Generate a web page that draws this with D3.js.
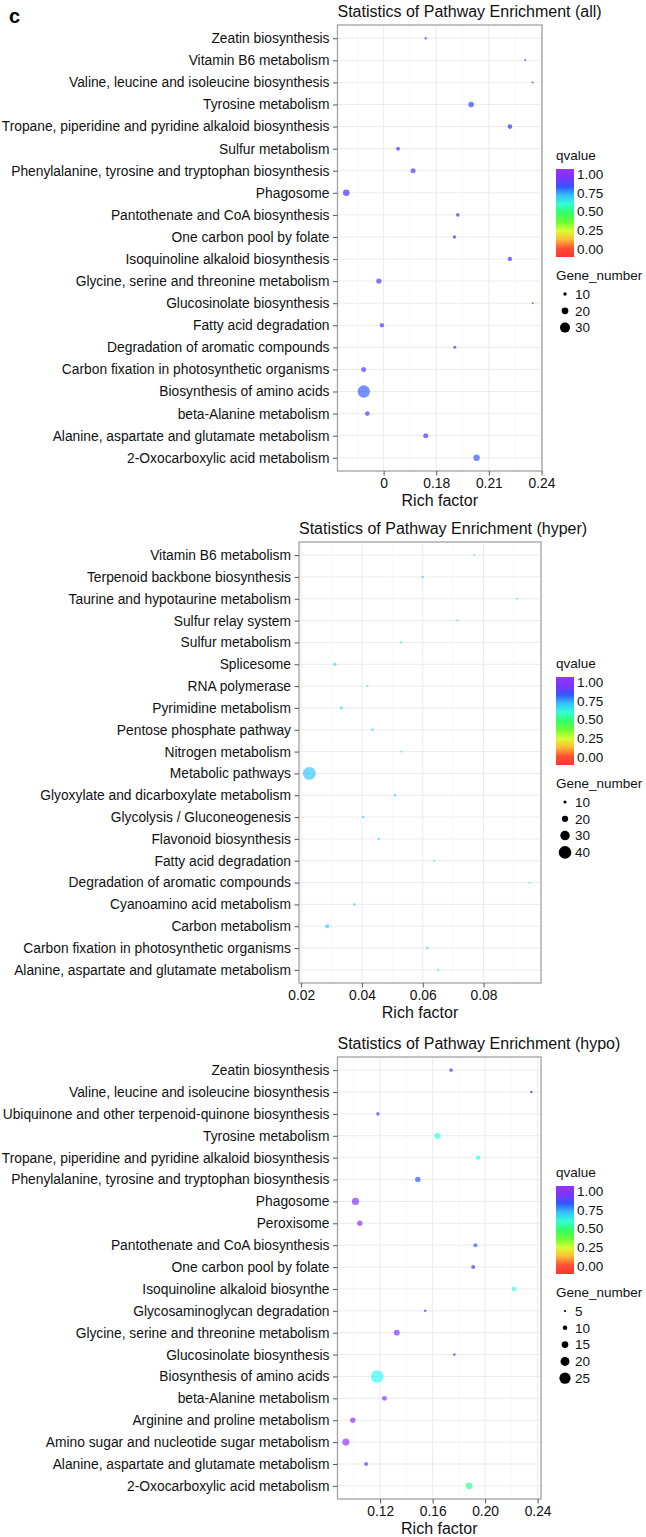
<!DOCTYPE html>
<html>
<head>
<meta charset="utf-8">
<script src="https://cdn.jsdelivr.net/npm/d3@7"></script>
<style>
  body { margin: 0; background: #fff; }
  text { font-family: "Liberation Sans", Arial, sans-serif; }
</style>
</head>
<body>
<svg id="chart"></svg>
<script>
"use strict";

// ---- panel "all" ----
const allCats = ["Zeatin biosynthesis", "Vitamin B6 metabolism", "Valine, leucine and isoleucine biosynthesis",
  "Tyrosine metabolism", "Tropane, piperidine and pyridine alkaloid biosynthesis", "Sulfur metabolism",
  "Phenylalanine, tyrosine and tryptophan biosynthesis", "Phagosome", "Pantothenate and CoA biosynthesis",
  "One carbon pool by folate", "Isoquinoline alkaloid biosynthesis", "Glycine, serine and threonine metabolism",
  "Glucosinolate biosynthesis", "Fatty acid degradation", "Degradation of aromatic compounds",
  "Carbon fixation in photosynthetic organisms", "Biosynthesis of amino acids", "beta-Alanine metabolism",
  "Alanine, aspartate and glutamate metabolism", "2-Oxocarboxylic acid metabolism"];
const allRich = [0.174, 0.2307, 0.235, 0.1999, 0.222, 0.1582, 0.1668, 0.1287, 0.1923, 0.1904,
  0.222, 0.1473, 0.235, 0.149, 0.1906, 0.1386, 0.1387, 0.1407, 0.174, 0.203];
const allQ = [0.92, 0.9, 0.9, 0.87, 0.89, 0.92, 0.93, 0.91, 0.91, 0.91,
  0.91, 0.93, 0.9, 0.93, 0.91, 0.94, 0.84, 0.94, 0.92, 0.85];
const allGenes = [7, 6, 6, 17, 14, 12, 15, 20, 11, 10, 13, 16, 6, 13, 9, 15, 37, 14, 15, 19];
const allTicks = [0.15, 0.18, 0.21, 0.24];
const allTickLabels = ["0", "0.18", "0.21", "0.24"];
const allSizeBreaks = [10, 20, 30];

// ---- panel "hyper" ----
const hyperCats = ["Vitamin B6 metabolism", "Terpenoid backbone biosynthesis", "Taurine and hypotaurine metabolism",
  "Sulfur relay system", "Sulfur metabolism", "Splicesome", "RNA polymerase", "Pyrimidine metabolism",
  "Pentose phosphate pathway", "Nitrogen metabolism", "Metabolic pathways", "Glyoxylate and dicarboxylate metabolism",
  "Glycolysis / Gluconeogenesis", "Flavonoid biosynthesis", "Fatty acid degradation",
  "Degradation of aromatic compounds", "Cyanoamino acid metabolism", "Carbon metabolism",
  "Carbon fixation in photosynthetic organisms", "Alanine, aspartate and glutamate metabolism"];
const hyperRich = [0.0769, 0.06, 0.091, 0.0714, 0.0528, 0.0311, 0.0418, 0.0332, 0.0435, 0.0528,
  0.0227, 0.0509, 0.0404, 0.0455, 0.0638, 0.0951, 0.0375, 0.0286, 0.0615, 0.0651];
const hyperQ = [0.7, 0.7, 0.7, 0.7, 0.7, 0.71, 0.7, 0.71, 0.7, 0.7,
  0.73, 0.7, 0.71, 0.7, 0.7, 0.7, 0.71, 0.72, 0.7, 0.7];
const hyperGenes = [6, 8, 6, 7, 7, 10, 7, 9, 8, 6, 41, 8, 8, 8, 7, 6, 8, 13, 8, 7];
const hyperTicks = [0.02, 0.04, 0.06, 0.08];
const hyperTickLabels = ["0.02", "0.04", "0.06", "0.08"];
const hyperSizeBreaks = [10, 20, 30, 40];

// ---- panel "hypo" ----
const hypoCats = ["Zeatin biosynthesis", "Valine, leucine and isoleucine biosynthesis",
  "Ubiquinone and other terpenoid-quinone biosynthesis", "Tyrosine metabolism",
  "Tropane, piperidine and pyridine alkaloid biosynthesis", "Phenylalanine, tyrosine and tryptophan biosynthesis",
  "Phagosome", "Peroxisome", "Pantothenate and CoA biosynthesis", "One carbon pool by folate",
  "Isoquinoline alkaloid biosynthe", "Glycosaminoglycan degradation", "Glycine, serine and threonine metabolism",
  "Glucosinolate biosynthesis", "Biosynthesis of amino acids", "beta-Alanine metabolism",
  "Arginine and proline metabolism", "Amino sugar and nucleotide sugar metabolism",
  "Alanine, aspartate and glutamate metabolism", "2-Oxocarboxylic acid metabolism"];
const hypoRich = [0.1741, 0.2353, 0.1183, 0.1637, 0.1947, 0.1487, 0.1012, 0.1045, 0.1926, 0.1909,
  0.2221, 0.1543, 0.1327, 0.1766, 0.1177, 0.1233, 0.0992, 0.0939, 0.1093, 0.1878];
const hypoQ = [0.95, 0.9, 0.95, 0.63, 0.65, 0.85, 0.98, 0.98, 0.85, 0.92,
  0.66, 0.95, 0.97, 0.93, 0.67, 0.97, 0.98, 0.99, 0.96, 0.56];
const hypoGenes = [8, 6, 8, 14, 10, 12, 16, 12, 9, 9, 10, 6, 13, 6, 28, 11, 12, 16, 9, 15];
const hypoTicks = [0.12, 0.16, 0.20, 0.24];
const hypoTickLabels = ["0.12", "0.16", "0.20", "0.24"];
const hypoSizeBreaks = [5, 10, 15, 20, 25];

const qBreaks = [0, 0.25, 0.5, 0.75, 1];
const qLabels = ["0.00", "0.25", "0.50", "0.75", "1.00"];

const W = 646, H = 1537;
const svg = d3.select("#chart").attr("width", W).attr("height", H);

// rainbow: red (0) -> violet (1)
const qColor = q => d3.hsl(270 * Math.max(0, Math.min(1, q)), 1, 0.5).formatHex();

svg.append("text").attr("x", 9).attr("y", 23)
  .style("font-size", "20px").style("font-weight", "bold").text("c");

function drawPanel(p) {
  const g = svg.append("g");
  const x = d3.scaleLinear().domain(p.domain).range([p.left, p.right]);
  const y = d3.scalePoint().domain(p.cats).range([p.top, p.bottom]).padding(0.6);
  const r = d3.scaleLinear().domain([0, p.sizeMax]).range([0, p.rMax]);

  // grid
  const step = p.ticks[1] - p.ticks[0];
  const minor = p.ticks.map(t => t - step / 2).concat([p.ticks[p.ticks.length - 1] + step / 2])
    .filter(v => v > p.domain[0] && v < p.domain[1]);
  g.selectAll(".minor").data(minor).join("line")
    .attr("x1", d => x(d)).attr("x2", d => x(d))
    .attr("y1", p.top).attr("y2", p.bottom)
    .attr("stroke", "#f3f3f3").attr("stroke-width", 0.6);
  g.selectAll(".vmaj").data(p.ticks).join("line")
    .attr("x1", d => x(d)).attr("x2", d => x(d))
    .attr("y1", p.top).attr("y2", p.bottom)
    .attr("stroke", "#ebebeb").attr("stroke-width", 1);
  g.selectAll(".hmaj").data(p.cats).join("line")
    .attr("x1", p.left).attr("x2", p.right)
    .attr("y1", d => y(d)).attr("y2", d => y(d))
    .attr("stroke", "#ebebeb").attr("stroke-width", 1);

  // points
  const pts = p.cats.map((c, i) => ({ c, rich: p.rich[i], q: p.q[i], n: p.genes[i] }));
  g.selectAll(".dot").data(pts).join("circle")
    .attr("cx", d => x(d.rich)).attr("cy", d => y(d.c))
    .attr("r", d => r(d.n))
    .attr("fill", d => qColor(d.q)).attr("fill-opacity", 0.55);

  g.append("rect").attr("x", p.left).attr("y", p.top)
    .attr("width", p.right - p.left).attr("height", p.bottom - p.top)
    .attr("fill", "none").attr("stroke", "#a8a8a8").attr("stroke-width", 1.4);

  // axes
  const yAxis = g.append("g").attr("transform", `translate(${p.left},0)`)
    .call(d3.axisLeft(y).tickSize(4.5).tickPadding(3.5));
  const xAxis = g.append("g").attr("transform", `translate(0,${p.bottom})`)
    .call(d3.axisBottom(x).tickValues(p.ticks).tickFormat((d, i) => p.tickLabels[i]).tickSize(4.5).tickPadding(3));
  [yAxis, xAxis].forEach(a => {
    a.select(".domain").remove();
    a.selectAll(".tick line").attr("stroke", "#555");
    a.selectAll(".tick text").attr("fill", "#111").style("font-size", "13.8px")
      .style("font-family", "Liberation Sans, Arial, sans-serif");
  });

  g.append("text").attr("x", (p.left + p.right) / 2).attr("y", p.bottom + 35)
    .attr("text-anchor", "middle").style("font-size", "16px").attr("fill", "#111").text("Rich factor");
  g.append("text").attr("x", p.left).attr("y", p.top - 8)
    .style("font-size", "16px").attr("fill", "#111").text(p.title);

  // legend
  const n = p.sizeBreaks.length;
  const mid = (p.top + p.bottom) / 2;
  const qb = mid - 68.5 - 6.5 * n;
  const lx = 556;
  g.append("text").attr("x", lx).attr("y", qb).style("font-size", "13.5px").attr("fill", "#111").text("qvalue");
  const qy = d3.scaleLinear().domain([0, 1]).range([qb + 89, qb + 14]);
  const gid = "grad" + p.id;
  const grad = svg.append("defs").append("linearGradient").attr("id", gid)
    .attr("x1", 0).attr("x2", 0).attr("y1", 1).attr("y2", 0);
  d3.range(0, 11).forEach(i => {
    grad.append("stop").attr("offset", i / 10).attr("stop-color", qColor(i / 10 * 1.17 - 0.085));
  });
  g.append("rect").attr("x", lx).attr("y", qb + 9).attr("width", 18).attr("height", 88)
    .attr("fill", `url(#${gid})`).attr("opacity", 0.8);
  g.selectAll(".ql").data(qBreaks).join("text")
    .attr("x", lx + 21).attr("y", d => qy(d)).attr("dy", "0.36em")
    .style("font-size", "13.5px").attr("fill", "#111")
    .text((d, i) => qLabels[i]);

  g.append("text").attr("x", lx).attr("y", qb + 120).style("font-size", "13.5px").attr("fill", "#111").text("Gene_number");
  const items = g.selectAll(".sz").data(p.sizeBreaks).join("g")
    .attr("transform", (d, i) => `translate(${lx + 9},${qb + 134 + i * 16.8})`);
  items.append("circle").attr("r", d => r(d)).attr("fill", "#000");
  items.append("text").attr("x", 10).attr("dy", "0.36em")
    .style("font-size", "13.5px").attr("fill", "#111").text(d => d);
}

drawPanel({ id: "all", title: "Statistics of Pathway Enrichment (all)",
  cats: allCats, rich: allRich, q: allQ, genes: allGenes,
  ticks: allTicks, tickLabels: allTickLabels, sizeBreaks: allSizeBreaks,
  domain: [0.1237, 0.2403], left: 337.5, right: 542, top: 25, bottom: 471, sizeMax: 30, rMax: 5 });

drawPanel({ id: "hyper", title: "Statistics of Pathway Enrichment (hyper)",
  cats: hyperCats, rich: hyperRich, q: hyperQ, genes: hyperGenes,
  ticks: hyperTicks, tickLabels: hyperTickLabels, sizeBreaks: hyperSizeBreaks,
  domain: [0.0193, 0.0989], left: 299, right: 541, top: 542, bottom: 983, sizeMax: 40, rMax: 6.3 });

drawPanel({ id: "hypo", title: "Statistics of Pathway Enrichment (hypo)",
  cats: hypoCats, rich: hypoRich, q: hypoQ, genes: hypoGenes,
  ticks: hypoTicks, tickLabels: hypoTickLabels, sizeBreaks: hypoSizeBreaks,
  domain: [0.0875, 0.2426], left: 337.5, right: 541, top: 1057, bottom: 1499, sizeMax: 25, rMax: 5.6 });
</script>
</body>
</html>
